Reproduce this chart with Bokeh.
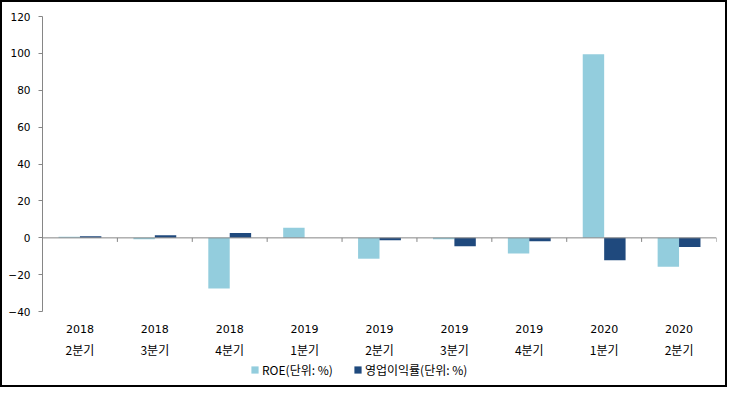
from bokeh.plotting import figure
from bokeh.models import (ColumnDataSource, FixedTicker, Span, Legend, LegendItem, Range1d)
from bokeh.core.properties import value
from bokeh.transform import dodge
from bokeh.embed import file_html
from bokeh.resources import INLINE
import numpy as np

years = ["2018", "2018", "2018", "2019", "2019", "2019", "2019", "2020", "2020"]
quarters = ["2분기", "3분기", "4분기", "1분기", "2분기", "3분기", "4분기", "1분기", "2분기"]
roe = [0.6, -0.7, -27.4, 5.5, -11.3, -0.7, -8.5, 99.5, -15.7]
op_margin = [0.9, 1.4, 2.7, 0.0, -1.3, -4.5, -1.8, -12.1, -5.0]
y_ticks = [-40, -20, 0, 20, 40, 60, 80, 100, 120]
series_names = ["ROE(단위: %)", "영업이익률(단위: %)"]

LIGHT = "#93CDDD"
DARK = "#1F497D"
AXIS = "#868686"

W, H = 727, 387
n = len(years)
centers = np.arange(n) + 0.5
src = ColumnDataSource(dict(x=centers, roe=roe, op=op_margin))

p = figure(width=W, height=H, output_backend="svg", toolbar_location=None,
           x_range=Range1d(0, n), y_range=Range1d(-82.2, 120),
           x_axis_location=None, y_axis_location="left",
           min_border_left=40, min_border_right=13, min_border_top=14, min_border_bottom=0)
p.styles = {"border": "2px solid black"}
p.outline_line_color = None
p.xgrid.visible = False
p.ygrid.visible = False
p.background_fill_color = "white"
p.border_fill_color = "white"

r1 = p.vbar(x=dodge("x", -0.143, range=p.x_range), top="roe", width=0.286, source=src,
            fill_color=LIGHT, line_color=None)
r2 = p.vbar(x=dodge("x", 0.143, range=p.x_range), top="op", width=0.286, source=src,
            fill_color=DARK, line_color=None)

p.add_layout(Span(location=0, dimension="width", line_color=AXIS, line_width=1))
bounds = np.arange(1, n + 1)
p.segment(x0=bounds, x1=bounds, y0=np.zeros(n), y1=np.full(n, -2.2), line_color=AXIS, line_width=1)

ya = p.yaxis[0]
ya.ticker = FixedTicker(ticks=y_ticks)
ya.bounds = (min(y_ticks), max(y_ticks))
ya.axis_line_color = AXIS
ya.major_tick_line_color = AXIS
ya.major_tick_out = 4
ya.major_tick_in = 0
ya.minor_tick_line_color = None
ya.major_label_text_font = "DejaVu Sans"
ya.major_label_text_font_size = "10.5px"
ya.major_label_text_color = "black"
ya.major_label_standoff = 8

p.text(x=centers, y=np.full(n, -49.3), text=years, text_align="center", text_baseline="middle",
       text_font=value("DejaVu Sans"), text_font_size="11px", text_color="black")
p.text(x=centers, y=np.full(n, -60.3), text=quarters, text_align="center", text_baseline="middle",
       text_font=value("Noto Sans CJK KR"), text_font_size="12px", text_color="black")

legend = Legend(items=[LegendItem(label=series_names[0], renderers=[r1]),
                       LegendItem(label=series_names[1], renderers=[r2])],
                orientation="horizontal", location=(208, 11))
legend.glyph_width = 9
legend.glyph_height = 9
legend.label_standoff = 3
legend.spacing = 20
legend.padding = 3
legend.margin = 0
legend.border_line_color = None
legend.background_fill_alpha = 0
legend.label_text_font = "Noto Sans CJK KR"
legend.label_text_font_size = "12px"
legend.label_text_color = "black"
p.add_layout(legend)

open("out.html", "w").write(file_html(p, INLINE))
